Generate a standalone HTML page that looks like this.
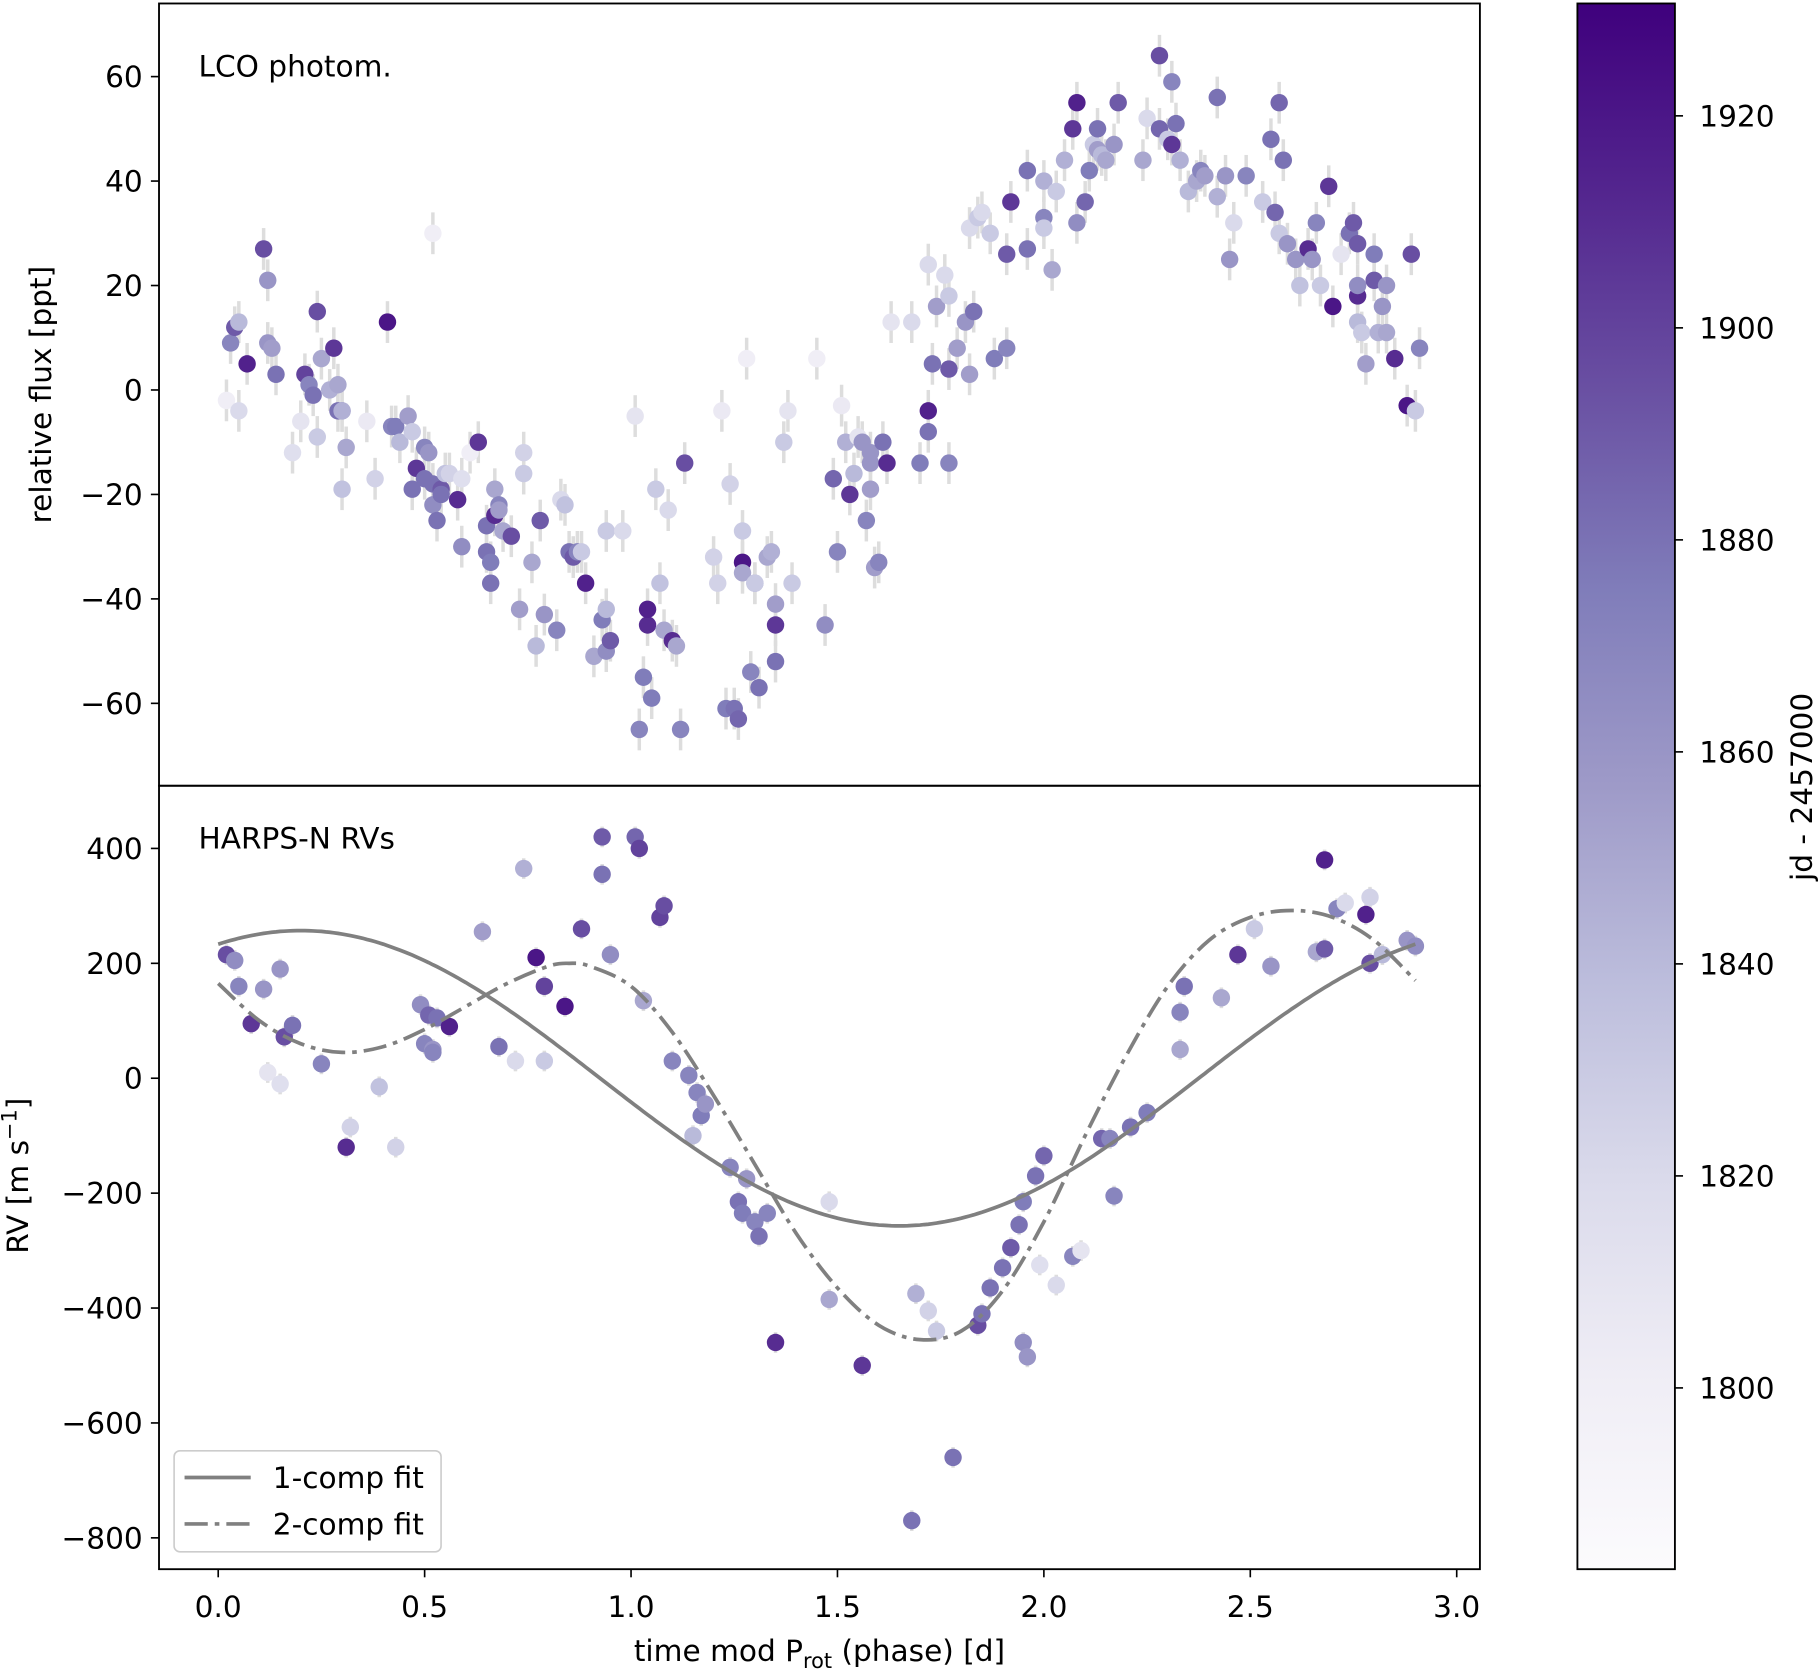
<!DOCTYPE html>
<html><head><meta charset="utf-8"><style>
html,body{margin:0;padding:0;background:#fff;}
svg{display:block;font-family:"DejaVu Sans","Liberation Sans",sans-serif;}
</style></head><body>
<svg id="fig" width="1820" height="1669" viewBox="0 0 1568 1438" preserveAspectRatio="none" xmlns="http://www.w3.org/2000/svg">
<defs>
<linearGradient id="cmap" x1="0" y1="1" x2="0" y2="0">
<stop offset="0" stop-color="#fcfbfd"/><stop offset="0.125" stop-color="#efedf5"/><stop offset="0.25" stop-color="#dadaeb"/><stop offset="0.375" stop-color="#bcbddc"/><stop offset="0.5" stop-color="#9e9ac8"/><stop offset="0.625" stop-color="#807dba"/><stop offset="0.75" stop-color="#6a51a3"/><stop offset="0.875" stop-color="#54278f"/><stop offset="1" stop-color="#3f007d"/>
</linearGradient>
<clipPath id="clipTop"><rect x="137" y="3" width="1138" height="674"/></clipPath>
<clipPath id="clipBot"><rect x="137" y="677" width="1138" height="675"/></clipPath>
</defs>
<g id="topMarks" clip-path="url(#clipTop)"></g>
<g id="botMarks" clip-path="url(#clipBot)"></g>
<g id="axes"></g>
</svg>
<script>
// ---- data ----
const fluxPhase=[0.02,0.03,0.04,0.05,0.05,0.07,0.11,0.12,0.12,0.13,0.14,0.18,0.2,0.21,0.22,0.23,0.24,0.24,0.25,0.27,0.28,0.29,0.29,0.30,0.30,0.30,0.31,0.36,0.38,0.41,0.42,0.43,0.44,0.46,0.47,0.47,0.48,0.50,0.50,0.51,0.52,0.52,0.52,0.53,0.54,0.54,0.55,0.56,0.58,0.59,0.59,0.61,0.63,0.65,0.65,0.66,0.66,0.67,0.67,0.68,0.68,0.69,0.71,0.73,0.74,0.74,0.76,0.77,0.78,0.79,0.82,0.83,0.84,0.85,0.86,0.87,0.88,0.89,0.91,0.93,0.94,0.94,0.94,0.95,0.98,1.01,1.02,1.03,1.04,1.04,1.05,1.06,1.07,1.08,1.09,1.10,1.11,1.12,1.13,1.20,1.21,1.22,1.23,1.24,1.25,1.26,1.27,1.27,1.27,1.28,1.29,1.30,1.30,1.31,1.33,1.34,1.35,1.35,1.35,1.37,1.38,1.39,1.45,1.47,1.49,1.50,1.51,1.52,1.53,1.54,1.55,1.56,1.57,1.58,1.58,1.58,1.59,1.60,1.61,1.62,1.63,1.68,1.70,1.72,1.72,1.72,1.73,1.74,1.76,1.77,1.77,1.77,1.79,1.81,1.82,1.82,1.83,1.84,1.85,1.87,1.88,1.91,1.91,1.92,1.96,1.96,2.00,2.00,2.00,2.02,2.03,2.05,2.07,2.08,2.08,2.10,2.11,2.12,2.13,2.13,2.14,2.15,2.17,2.18,2.24,2.25,2.28,2.28,2.30,2.31,2.31,2.32,2.33,2.35,2.37,2.38,2.39,2.42,2.42,2.44,2.45,2.46,2.49,2.53,2.55,2.56,2.57,2.57,2.58,2.59,2.61,2.62,2.64,2.65,2.66,2.67,2.69,2.70,2.72,2.74,2.75,2.76,2.76,2.76,2.76,2.77,2.78,2.80,2.80,2.81,2.82,2.83,2.83,2.85,2.88,2.89,2.90,2.91,2.92];
const fluxValue=[-2,9,12,-4,13,5,27,9,21,8,3,-12,-6,3,1,-1,-9,15,6,0,8,-4,1,-4,-19,-4,-11,-6,-17,13,-7,-7,-10,-5,-19,-8,-15,-17,-11,-12,-18,30,-22,-25,-19,-20,-16,-16,-21,-30,-17,-12,-10,-26,-31,-33,-37,-19,-24,-22,-23,-27,-28,-42,-12,-16,-33,-49,-25,-43,-46,-21,-22,-31,-32,-31,-31,-37,-51,-44,-50,-27,-42,-48,-27,-5,-65,-55,-45,-42,-59,-19,-37,-46,-23,-48,-49,-65,-14,-32,-37,-4,-61,-18,-61,-63,-27,-33,-35,6,-54,-37,-37,-57,-32,-31,-45,-52,-41,-10,-4,-37,6,-45,-17,-31,-3,-10,-20,-16,-9,-10,-25,-14,-19,-12,-34,-33,-10,-14,13,13,-14,-8,-4,24,5,16,22,-14,18,4,8,13,3,31,15,33,34,30,6,8,26,36,27,42,33,40,31,23,38,44,50,55,32,36,42,47,50,46,45,44,47,55,44,52,64,50,48,59,47,51,44,38,40,42,41,56,37,41,25,32,41,36,48,34,30,55,44,28,25,20,27,25,32,20,39,16,26,30,32,18,20,13,28,11,5,26,21,11,16,11,20,6,-3,26,-4,8];
const fluxJd=[1800,1870,1890,1820,1840,1915,1895,1860,1860,1855,1880,1815,1810,1900,1870,1880,1830,1895,1850,1845,1905,1880,1850,1870,1835,1845,1850,1805,1825,1920,1870,1875,1840,1855,1880,1830,1905,1880,1870,1860,1880,1800,1865,1880,1890,1880,1835,1825,1910,1865,1815,1800,1905,1880,1880,1875,1880,1850,1910,1870,1855,1850,1895,1855,1825,1830,1850,1840,1890,1860,1870,1820,1835,1880,1890,1870,1830,1915,1850,1875,1865,1830,1840,1890,1820,1810,1870,1875,1910,1915,1875,1830,1835,1850,1820,1910,1850,1870,1895,1825,1825,1805,1875,1825,1880,1885,1830,1920,1850,1800,1870,1855,1830,1880,1850,1845,1905,1880,1855,1830,1810,1830,1800,1865,1885,1870,1805,1845,1905,1840,1810,1860,1870,1860,1855,1860,1855,1870,1880,1910,1810,1820,1875,1880,1915,1820,1880,1855,1820,1870,1830,1890,1855,1860,1855,1820,1880,1830,1820,1830,1875,1870,1890,1905,1880,1880,1870,1845,1830,1850,1830,1845,1905,1915,1865,1885,1875,1830,1880,1855,1840,1850,1860,1890,1850,1820,1895,1885,1830,1870,1905,1880,1845,1840,1850,1870,1855,1880,1845,1860,1860,1820,1870,1830,1880,1885,1830,1885,1880,1860,1860,1835,1910,1860,1870,1830,1905,1920,1810,1880,1890,1910,1865,1840,1890,1830,1855,1875,1890,1845,1860,1850,1860,1910,1920,1895,1830,1870];
const rvPhase=[0.02,0.04,0.05,0.08,0.11,0.12,0.15,0.15,0.16,0.18,0.25,0.31,0.32,0.39,0.43,0.49,0.50,0.51,0.52,0.52,0.53,0.56,0.64,0.68,0.72,0.74,0.77,0.79,0.79,0.84,0.88,0.93,0.93,0.95,1.01,1.02,1.03,1.07,1.08,1.10,1.14,1.15,1.16,1.17,1.18,1.24,1.26,1.27,1.28,1.30,1.31,1.33,1.35,1.48,1.48,1.56,1.68,1.69,1.72,1.74,1.78,1.84,1.85,1.87,1.90,1.92,1.94,1.95,1.95,1.96,1.98,2.00,1.99,2.03,2.07,2.09,2.14,2.16,2.17,2.21,2.25,2.33,2.34,2.33,2.43,2.47,2.51,2.55,2.66,2.68,2.68,2.71,2.73,2.79,2.78,2.79,2.82,2.88,2.90];
const rvValue=[215,205,160,95,155,10,190,-10,72,92,25,-120,-85,-15,-120,128,60,110,50,45,105,90,255,55,30,365,210,30,160,125,260,420,355,215,420,400,135,280,300,30,5,-100,-25,-65,-45,-155,-215,-235,-175,-250,-275,-235,-460,-385,-215,-500,-770,-375,-405,-440,-660,-430,-410,-365,-330,-295,-255,-215,-460,-485,-170,-135,-325,-360,-310,-300,-105,-105,-205,-85,-60,115,160,50,140,215,260,195,220,225,380,295,305,315,285,200,215,240,230];
const rvJd=[1895,1865,1870,1905,1860,1810,1860,1815,1895,1880,1870,1910,1825,1835,1825,1865,1870,1885,1860,1870,1880,1915,1855,1880,1820,1845,1920,1830,1900,1920,1895,1890,1880,1865,1885,1900,1850,1900,1895,1870,1870,1840,1870,1875,1860,1870,1880,1875,1860,1870,1880,1870,1910,1850,1820,1905,1880,1845,1825,1830,1880,1895,1880,1880,1880,1890,1880,1875,1865,1860,1880,1885,1815,1820,1870,1810,1885,1870,1870,1880,1875,1870,1880,1850,1850,1905,1830,1860,1850,1890,1915,1870,1820,1825,1915,1895,1840,1860,1865];
const fit2Phase=[0,0.1,0.2,0.3,0.4,0.5,0.6,0.7,0.8,0.85,0.9,1.0,1.1,1.2,1.3,1.4,1.5,1.6,1.7,1.8,1.9,2.0,2.1,2.2,2.3,2.4,2.5,2.6,2.7,2.8,2.9];
const fit2Value=[165,100,60,45,55,85,125,165,195,200,195,160,80,-30,-150,-270,-365,-430,-455,-440,-370,-250,-100,40,160,240,280,292,280,240,170];
const fit1Amp=257, fit1Peak=0.2, fit1Period=2.9;
const xTicks=[0,0.5,1.0,1.5,2.0,2.5,3.0];
const xTickLabels=["0.0","0.5","1.0","1.5","2.0","2.5","3.0"];
const fluxTicks=[-60,-40,-20,0,20,40,60];
const rvTicks=[-800,-600,-400,-200,0,200,400];
const cbTicks=[1800,1820,1840,1860,1880,1900,1920];

// ---- scales ----
const X=v=>188+v*355.67;
const YF=v=>336-v*4.5;
const YR=v=>929-v*0.495;
const JDMIN=1782.9, JDMAX=1930.6;
const YC=v=>1352-(v-JDMIN)/(JDMAX-JDMIN)*1349;
const stops=[[252,251,253],[239,237,245],[218,218,235],[188,189,220],[158,154,200],[128,125,186],[106,81,163],[84,39,143],[63,0,125]];
function cmap(jd){
  if(!isFinite(jd)) jd=1865;
  let t=Math.max(0,Math.min(1,(jd-JDMIN)/(JDMAX-JDMIN)))*8;
  let i=Math.min(7,Math.floor(t)),f=t-i;const a=stops[i],b=stops[i+1];
  return 'rgb('+a.map((c,k)=>Math.round(c+(b[k]-c)*f)).join(',')+')';
}
const NS="http://www.w3.org/2000/svg";
function mk(tag,attrs,parent){const e=document.createElementNS(NS,tag);for(const k in attrs)e.setAttribute(k,attrs[k]);parent.appendChild(e);return e;}

// ---- flux scatter ----
const gT=document.getElementById('topMarks');
const nF=Math.min(fluxPhase.length,fluxValue.length);
for(let i=0;i<nF;i++){
  const p=fluxPhase[i];
  const eb=mk('line',{x1:X(p),x2:X(p),y1:YF(fluxValue[i]+4),y2:YF(fluxValue[i]-4),stroke:'#dddddd','stroke-width':3},gT);
  
  
}
for(let i=0;i<nF;i++){
  const c=mk('circle',{cx:X(fluxPhase[i]),cy:YF(fluxValue[i]),r:7.5,fill:cmap(fluxJd[i])},gT);
  
  
}

// ---- RV scatter & fits ----
const gB=document.getElementById('botMarks');
const nR=Math.min(rvPhase.length,rvValue.length);
for(let i=0;i<nR;i++){
  const p=rvPhase[i];
  const eb=mk('line',{x1:X(p),x2:X(p),y1:YR(rvValue[i]+18),y2:YR(rvValue[i]-18),stroke:'#dddddd','stroke-width':3},gB);
  
  
}
for(let i=0;i<nR;i++){
  const c=mk('circle',{cx:X(rvPhase[i]),cy:YR(rvValue[i]),r:7.5,fill:cmap(rvJd[i])},gB);
  
  
}
let d1='';
for(let k=0;k<=290;k++){const p=k/100;const v=fit1Amp*Math.cos(2*Math.PI*(p-fit1Peak)/fit1Period);d1+=(k?'L':'M')+X(p).toFixed(1)+','+YR(v).toFixed(1);}
const l1=mk('path',{d:d1,fill:'none',stroke:'#808080','stroke-width':3.2},gB);


const nFit=Math.min(fit2Phase.length,fit2Value.length);
const pts=[];
for(let i=0;i<nFit;i++) pts.push([X(fit2Phase[i]),YR(fit2Value[i])]);
let d2='M'+pts[0][0]+','+pts[0][1];
for(let i=0;i<pts.length-1;i++){const p0=pts[Math.max(0,i-1)],p1=pts[i],p2=pts[i+1],p3=pts[Math.min(pts.length-1,i+2)];
 d2+='C'+(p1[0]+(p2[0]-p0[0])/6)+','+(p1[1]+(p2[1]-p0[1])/6)+' '+(p2[0]-(p3[0]-p1[0])/6)+','+(p2[1]-(p3[1]-p1[1])/6)+' '+p2[0]+','+p2[1];}
const l2=mk('path',{d:d2,fill:'none',stroke:'#808080','stroke-width':3.2,'stroke-dasharray':'20 6 4 6'},gB);



// ---- axes ----
const gA=document.getElementById('axes');
const fs=25.5;
function text(x,y,s,anchor,name,extra){const t=mk('text',Object.assign({x:x,y:y,'font-size':fs,'text-anchor':anchor,fill:'#000'},extra||{}),gA);t.textContent=s;return t;}
const f1=mk('rect',{x:137,y:3,width:1138,height:674,fill:'none',stroke:'#000','stroke-width':1.6},gA);

const f2=mk('rect',{x:137,y:677,width:1138,height:675,fill:'none',stroke:'#000','stroke-width':1.6},gA);

xTicks.forEach((v,i)=>{
  const t=mk('line',{x1:X(v),x2:X(v),y1:1352,y2:1359,stroke:'#000','stroke-width':1.4},gA);
  
  text(X(v),1393,xTickLabels[i],'middle','x-tick-label');
});
fluxTicks.forEach(v=>{
  const t=mk('line',{x1:130,x2:137,y1:YF(v),y2:YF(v),stroke:'#000','stroke-width':1.4},gA);
  
  text(123,YF(v)+9,(v<0?'\u2212':'')+Math.abs(v),'end','flux-y-tick-label');
});
rvTicks.forEach(v=>{
  const t=mk('line',{x1:130,x2:137,y1:YR(v),y2:YR(v),stroke:'#000','stroke-width':1.4},gA);
  
  text(123,YR(v)+9,(v<0?'\u2212':'')+Math.abs(v),'end','rv-y-tick-label');
});
text(171,66,'LCO photom.','start','flux-panel-label');
text(171,731,'HARPS-N RVs','start','rv-panel-label');
const xl=mk('text',{x:706,y:1431,'font-size':fs,'text-anchor':'middle'},gA);

const xs1=mk('tspan',{},xl);xs1.textContent='time mod P';
const xs2=mk('tspan',{'font-size':18,dy:6},xl);xs2.textContent='rot';
const xs3=mk('tspan',{dy:-6},xl);xs3.textContent=' (phase) [d]';
text(0,0,'relative flux [ppt]','middle','flux-y-axis-title',{transform:'translate(44,340) rotate(-90)'});
const yl=mk('text',{'font-size':fs,'text-anchor':'middle',transform:'translate(24,1013) rotate(-90)'},gA);

const ys1=mk('tspan',{},yl);ys1.textContent='RV [m s';
const ys2=mk('tspan',{'font-size':18,dy:-10},yl);ys2.textContent='\u22121';
const ys3=mk('tspan',{dy:10},yl);ys3.textContent=']';
// legend
const lg=mk('rect',{x:150,y:1250,width:230,height:87,rx:5,fill:'#fff','fill-opacity':0.85,stroke:'#cccccc','stroke-width':1.4},gA);

const le1=mk('line',{x1:159,x2:216,y1:1273,y2:1273,stroke:'#808080','stroke-width':3.2},gA);

const le2=mk('line',{x1:159,x2:216,y1:1313,y2:1313,stroke:'#808080','stroke-width':3.2,'stroke-dasharray':'20 6 4 6'},gA);

text(235,1282,'1-comp fit','start','legend-one-comp-label');
text(235,1322,'2-comp fit','start','legend-two-comp-label');
// colorbar
const cb=mk('rect',{x:1359,y:3,width:84,height:1349,fill:'url(#cmap)',stroke:'#000','stroke-width':1.6},gA);

cbTicks.forEach(v=>{
  const t=mk('line',{x1:1443,x2:1450,y1:YC(v),y2:YC(v),stroke:'#000','stroke-width':1.4},gA);
  
  text(1464,YC(v)+9,String(v),'start','colorbar-tick-label');
});
text(0,0,'jd - 2457000','middle','colorbar-title',{transform:'translate(1561,678) rotate(-90)'});
</script>
</body></html>
